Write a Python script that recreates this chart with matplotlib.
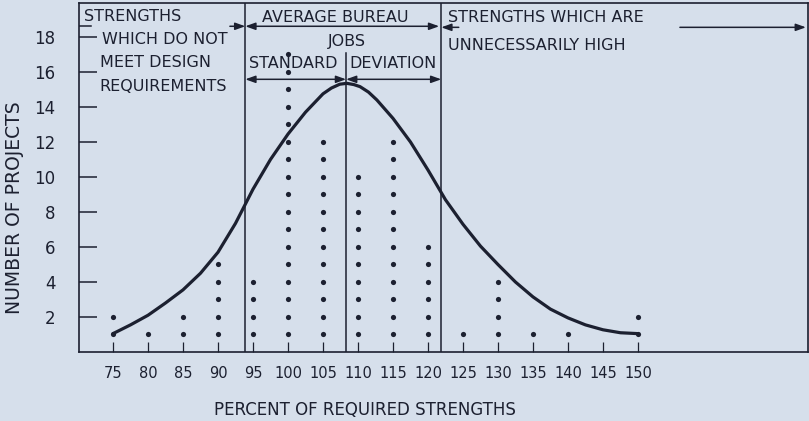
import matplotlib
matplotlib.use("Agg")
import matplotlib.pyplot as plt

# ---------------- data ----------------
percent = [75, 80, 85, 90, 95, 100, 105, 110, 115, 120, 125, 130, 135, 140, 145, 150]
projects = [2, 1, 2, 5, 4, 17, 12, 10, 12, 6, 1, 4, 1, 1, 0, 2]

curve_x = [75, 77.5, 80, 82.5, 85, 87.5, 90, 92.5, 95, 97.5, 100, 102.5, 105,
           106.2, 107.4, 108.4, 109.4, 110.3, 111.5, 112.7, 115, 117.5, 120, 122.5,
           125, 127.5, 130, 132.5, 135, 137.5, 140, 142.5, 145, 147.5, 150]
curve_y = [1.05, 1.55, 2.1, 2.8, 3.55, 4.5, 5.7, 7.35, 9.3, 11.0, 12.45, 13.7, 14.75,
           15.08, 15.3, 15.35, 15.28, 15.16, 14.85, 14.4, 13.35, 12.0, 10.4, 8.7,
           7.3, 6.05, 5.0, 4.0, 3.15, 2.45, 1.95, 1.55, 1.27, 1.1, 1.05]

mean_pct = 108.3
low_sd = 93.9
high_sd = 121.9

x_ticks = percent
y_ticks = [2, 4, 6, 8, 10, 12, 14, 16, 18]

TXT = "DejaVu Sans"
BG = "#d6dfeb"
INK = "#1c2030"

fig = plt.figure(figsize=(8.09, 4.21), dpi=100, facecolor=BG)
ax = fig.add_axes([79 / 809, 69 / 421, 729 / 809, 349 / 421])
ax.set_facecolor(BG)
ax.set_xlim(70.14, 174.3)
ax.set_ylim(0, 19.94)

for s in ax.spines.values():
    s.set_color(INK)
    s.set_linewidth(1.2)

# dots
dx, dy = [], []
for p, n in zip(percent, projects):
    for k in range(1, n + 1):
        dx.append(p)
        dy.append(k)
ax.scatter(dx, dy, s=14, color=INK, zorder=3, linewidths=0)

# curve
ax.plot(curve_x, curve_y, color=INK, lw=2.3, solid_capstyle="round",
        solid_joinstyle="round", zorder=4)

# vertical lines
ax.plot([low_sd, low_sd], [0, 19.94], color=INK, lw=1.1)
ax.plot([high_sd, high_sd], [0, 19.94], color=INK, lw=1.1)
ax.plot([mean_pct, mean_pct], [0, 17.1], color=INK, lw=1.1)

# ticks
ax.set_xticks(x_ticks)
ax.set_xticklabels([str(v) for v in x_ticks], fontfamily=TXT, fontsize=10.5, color=INK)
ax.set_yticks(y_ticks)
ax.set_yticklabels([str(v) for v in y_ticks], fontfamily=TXT, fontsize=12, color=INK)
ax.tick_params(axis="x", direction="in", length=7, width=0.9, pad=10, colors=INK)
ax.tick_params(axis="y", direction="in", length=13, width=1.1, pad=17, colors=INK)

# axis labels
fig.text(15 / 809, 1 - 208 / 421, "NUMBER OF PROJECTS", rotation=90, ha="center",
         va="center", fontfamily=TXT, fontsize=13.5, color=INK)
fig.text(365 / 809, 1 - 410 / 421, "PERCENT OF REQUIRED STRENGTHS", ha="center",
         va="center", fontfamily=TXT, fontsize=12, color=INK)

# annotations
tk = dict(fontfamily=TXT, fontsize=11.5, color=INK, va="center")
ax.text(70.9, 19.15, "STRENGTHS", ha="left", **tk)
ax.text(73.4, 17.87, "WHICH DO NOT", ha="left", **tk)
ax.text(73.1, 16.55, "MEET DESIGN", ha="left", **tk)
ax.text(73.1, 15.18, "REQUIREMENTS", ha="left", **tk)
ax.text(96.3, 19.1, "AVERAGE BUREAU", ha="left", **tk)
ax.text(108.4, 17.75, "JOBS", ha="center", **tk)
ax.text(94.5, 16.5, "STANDARD", ha="left", **tk)
ax.text(108.8, 16.5, "DEVIATION", ha="left", **tk)
ax.text(122.9, 19.1, "STRENGTHS WHICH ARE", ha="left", **tk)
ax.text(122.9, 17.5, "UNNECESSARILY HIGH", ha="left", **tk)

def arrow(x0, x1, y, style):
    ax.annotate("", xy=(x1, y), xytext=(x0, y),
                arrowprops=dict(arrowstyle=style + ",head_length=0.5,head_width=0.18",
                                color=INK, lw=1.1, shrinkA=0, shrinkB=0,
                                mutation_scale=12))

# top row arrows
ax.plot([70.14, 71.9], [18.61, 18.61], color=INK, lw=1.1)
arrow(91.7, low_sd, 18.61, "-|>")
arrow(low_sd, high_sd - 0.3, 18.61, "<|-|>")
arrow(high_sd + 2.5, high_sd, 18.55, "-|>")
arrow(156.0, 174.0, 18.55, "-|>")
# standard deviation arrows
arrow(low_sd, mean_pct, 15.58, "<|-|>")
arrow(mean_pct, high_sd, 15.58, "<|-|>")

fig.savefig("out.png", dpi=100, facecolor=BG)
